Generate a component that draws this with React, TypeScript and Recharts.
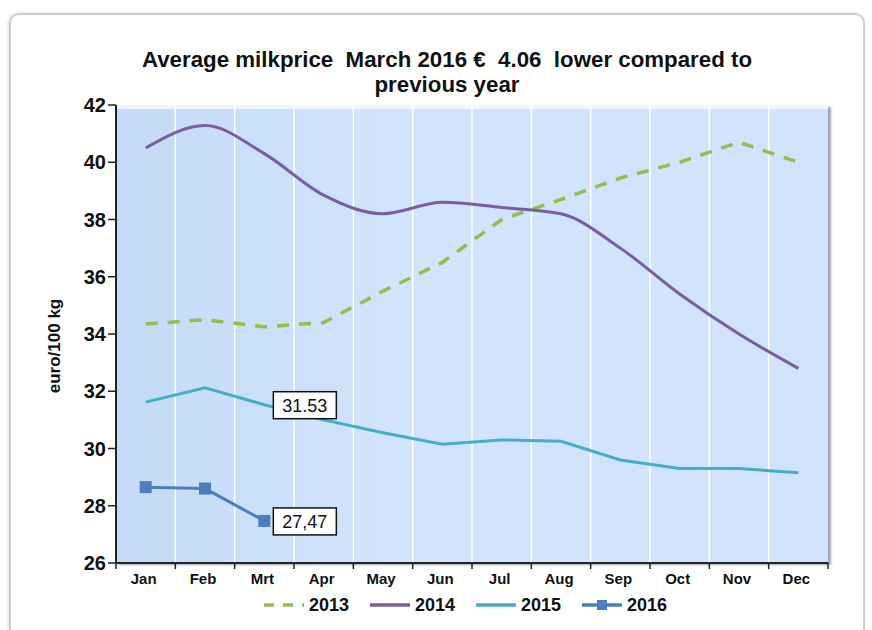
import React from "react";
import { LineChart, Line, XAxis, YAxis, CartesianGrid, Legend, LabelList } from "recharts";

const months = ["Jan", "Feb", "Mrt", "Apr", "May", "Jun", "Jul", "Aug", "Sep", "Oct", "Nov", "Dec"];
const price2013 = [34.35, 34.5, 34.25, 34.4, 35.5, 36.5, 38.0, 38.7, 39.45, 40.0, 40.7, 40.0];
const price2014 = [40.5, 41.28, 40.3, 38.85, 38.2, 38.6, 38.42, 38.2, 37.0, 35.4, 34.0, 32.8];
const price2015 = [31.62, 32.12, 31.53, 31.0, 30.55, 30.15, 30.3, 30.25, 29.6, 29.3, 29.3, 29.15];
const price2016 = [28.65, 28.6, 27.47];
const yTicks = [26, 28, 30, 32, 34, 36, 38, 40, 42];

const data = months.map((m, i) => ({
  month: m,
  y2013: price2013[i],
  y2014: price2014[i],
  y2015: price2015[i],
  y2016: i < price2016.length ? price2016[i] : null,
}));

const W = 872;
const H = 630;
const MARGIN = { top: 105, right: 44, bottom: 13, left: 40 };
const FONT = "'Liberation Sans', Arial, sans-serif";

function MonthTick(props: any) {
  const { x, y, payload, index, visibleTicksCount } = props;
  const half = payload.offset || 0;
  const axisY = y - 8;
  return (
    <g>
      <line x1={x - half} y1={axisY} x2={x - half} y2={axisY + 6} stroke="#222" strokeWidth={1.5} />
      {index === visibleTicksCount - 1 && (
        <line x1={x + half} y1={axisY} x2={x + half} y2={axisY + 6} stroke="#222" strokeWidth={1.5} />
      )}
      <text x={x - 2} y={y + 13} textAnchor="middle" fontSize={15} fontWeight="bold" fill="#111" fontFamily={FONT}>
        {payload.value}
      </text>
    </g>
  );
}

function YTitle(props: any) {
  const vb = props.viewBox || {};
  const cx = vb.x + 14;
  const cy = vb.y + vb.height / 2 + 12;
  return (
    <text
      x={cx}
      y={cy}
      transform={`rotate(-90 ${cx} ${cy})`}
      textAnchor="middle"
      dominantBaseline="central"
      fontSize={17}
      fontWeight="bold"
      fill="#111"
      fontFamily={FONT}
    >
      euro/100 kg
    </text>
  );
}

function BoxLabel(props: any) {
  const { x, y, value, index, comma } = props;
  if (index !== 2 || value == null) {
    return null;
  }
  const txt = comma ? Number(value).toFixed(2).replace(".", ",") : Number(value).toFixed(2);
  const bx = x + 9;
  return (
    <g>
      <rect x={bx} y={y - 13} width={63} height={27} fill="#fff" stroke="#111" strokeWidth={1.5} />
      <text x={bx + 31.5} y={y + 1} textAnchor="middle" dominantBaseline="central" fontSize={18} fill="#111" fontFamily={FONT}>
        {txt}
      </text>
    </g>
  );
}

function LegendIcon({ color, dashed, marker }: { color: string; dashed?: boolean; marker?: boolean }) {
  return (
    <svg width={42} height={14} style={{ marginRight: 4 }}>
      <line
        x1={1}
        y1={7}
        x2={41}
        y2={7}
        stroke={color}
        strokeWidth={3.5}
        strokeDasharray={dashed ? "10 9" : undefined}
      />
      {marker && <rect x={16} y={2} width={10} height={10} fill={color} />}
    </svg>
  );
}

function LegendContent(props: any) {
  const items = props.payload || [];
  return (
    <div
      style={{
        display: "flex",
        justifyContent: "center",
        alignItems: "center",
        height: 24,
        paddingRight: 14,
        fontFamily: FONT,
      }}
    >
      {items.map((it: any) => (
        <div key={it.value} style={{ display: "flex", alignItems: "center", margin: "0 10px" }}>
          <LegendIcon color={it.color} dashed={it.value === "2013"} marker={it.value === "2016"} />
          <span style={{ fontSize: 18, fontWeight: "bold", color: "#111" }}>{it.value}</span>
        </div>
      ))}
    </div>
  );
}

export default function App() {
  return (
    <div style={{ position: "relative", width: W, height: H, overflow: "hidden", background: "#fff", fontFamily: FONT }}>
      <style>{`body{margin:0}`}</style>
      <div
        style={{
          position: "absolute",
          left: 9,
          top: 13,
          width: 852,
          height: 660,
          border: "2px solid #cdcdcd",
          borderRadius: 10,
          boxShadow: "-1px 0 3px rgba(0,0,0,0.15)",
        }}
      />
      <div
        style={{
          position: "absolute",
          left: 116,
          top: 105,
          width: 712,
          height: 458,
          background: "linear-gradient(to right, #c4daf6, #d2e4fb 40%, #d0e3fb)",
          borderTop: "4px solid #eef5fd",
          boxSizing: "border-box",
          boxShadow: "3px 2px 2px rgba(80,90,110,0.55)",
        }}
      />
      <div
        style={{
          position: "absolute",
          left: 0,
          width: 894,
          top: 47,
          textAlign: "center",
          fontSize: 22.3,
          fontWeight: "bold",
          lineHeight: "25px",
          color: "#111",
          whiteSpace: "pre",
        }}
      >
        {"Average milkprice  March 2016 €  4.06  lower compared to\nprevious year"}
      </div>
      <LineChart width={W} height={H} data={data} margin={MARGIN}>
        <CartesianGrid
          horizontal={false}
          stroke="#ffffff"
          strokeWidth={1.5}
          verticalCoordinatesGenerator={({ offset }: any) =>
            months.slice(1).map((_, i) => offset.left + ((i + 1) * offset.width) / months.length)
          }
        />
        <XAxis
          dataKey="month"
          scale="band"
          height={30}
          tickLine={false}
          axisLine={{ stroke: "#222", strokeWidth: 2 }}
          tick={<MonthTick />}
          interval={0}
        />
        <YAxis
          width={76}
          domain={[26, 42]}
          ticks={yTicks}
          interval={0}
          axisLine={{ stroke: "#222", strokeWidth: 2 }}
          tickLine={{ stroke: "#222", strokeWidth: 1.5 }}
          tickSize={8}
          tickMargin={2}
          tick={{ fontSize: 20, fontWeight: "bold", fill: "#111", fontFamily: FONT }}
          label={<YTitle />}
        />
        <Legend verticalAlign="bottom" content={<LegendContent />} wrapperStyle={{ left: 116, width: 712 }} />
        <Line
          name="2013"
          dataKey="y2013"
          stroke="#93bd4f"
          strokeWidth={3.5}
          strokeDasharray="12 10"
          dot={false}
          isAnimationActive={false}
        />
        <Line
          name="2014"
          type="monotone"
          dataKey="y2014"
          stroke="#7a5d9f"
          strokeWidth={3}
          dot={false}
          isAnimationActive={false}
        />
        <Line name="2015" dataKey="y2015" stroke="#47adc4" strokeWidth={3} dot={false} isAnimationActive={false}>
          <LabelList dataKey="y2015" content={<BoxLabel />} />
        </Line>
        <Line
          name="2016"
          dataKey="y2016"
          stroke="#4a7ebd"
          strokeWidth={3}
          dot={(p: any) =>
            p.value == null ? <g key={p.index} /> : <rect key={p.index} x={p.cx - 6} y={p.cy - 6} width={12} height={12} fill="#4a7ebd" />
          }
          isAnimationActive={false}
        >
          <LabelList dataKey="y2016" content={<BoxLabel comma />} />
        </Line>
      </LineChart>
    </div>
  );
}
